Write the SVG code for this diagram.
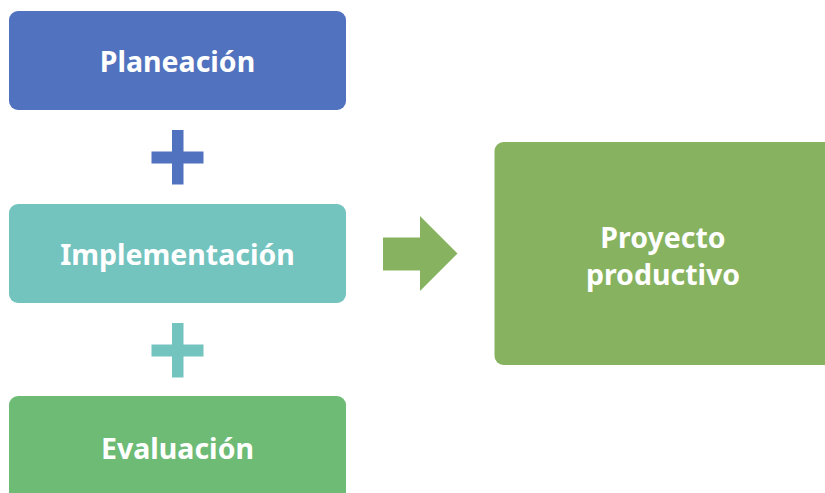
<svg xmlns="http://www.w3.org/2000/svg" width="825" height="493" viewBox="0 0 825 493">
<style>
text{font-family:"Noto Sans","Open Sans",sans-serif;font-weight:bold;font-size:28.5px;fill:#fff;text-anchor:middle}
</style>
<rect width="825" height="493" fill="#fff"/>
<g id="planeacion"><rect x="9" y="11" width="337" height="99" rx="9" fill="#5172BE"/><text x="177.5" y="72">Planeación</text></g>
<g id="plus1"><path d="M172 130h11.5v21.5h20v12h-20v21h-11.5v-21h-20.5v-12h20.5z" fill="#5172BE"/></g>
<g id="implementacion"><rect x="9" y="204" width="337" height="99" rx="9" fill="#73C3BF"/><text x="177.5" y="265">Implementación</text></g>
<g id="plus2"><path d="M172 323h11.5v21.5h20v12h-20v21h-11.5v-21h-20.5v-12h20.5z" fill="#73C3BF"/></g>
<g id="evaluacion"><rect x="9" y="396" width="337" height="110" rx="9" fill="#6DBB75"/><text x="177.5" y="459">Evaluación</text></g>
<g id="connectors"><path d="M383 237.5h37v-21.5l37.5 37.5l-37.5 37.5v-20.5h-37z" fill="#87B360"/></g>
<g id="proyecto"><rect x="494.5" y="142" width="345" height="223" rx="9" fill="#87B360"/><text x="663" y="248">Proyecto</text><text x="663" y="285">productivo</text></g>
</svg>
